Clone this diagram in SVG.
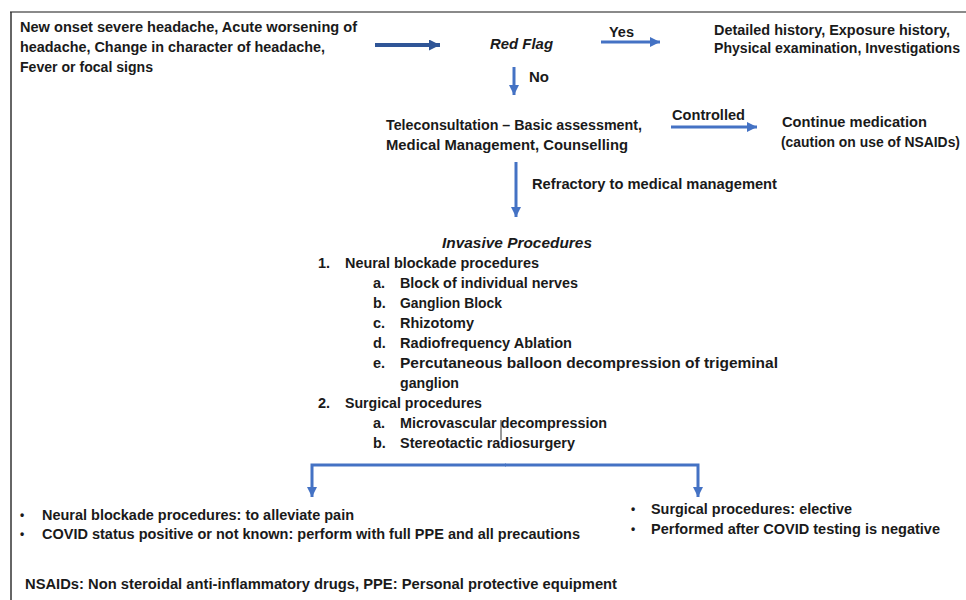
<svg xmlns="http://www.w3.org/2000/svg" width="966" height="600" viewBox="0 0 966 600">
<style>
text{font-family:"Liberation Sans",Arial,sans-serif;font-weight:bold;font-size:14.5px;fill:#1a1a1a}
.it{font-style:italic}
.bl{font-size:12px}
.blue{stroke:#4472C4;stroke-width:3;fill:none}
.navy{stroke:#2F5597;stroke-width:4;fill:none}
</style>
<defs>
<marker id="ah" viewBox="0 0 10 10" refX="10" refY="5" markerWidth="10" markerHeight="10" markerUnits="userSpaceOnUse" orient="auto"><path d="M0,0 L10,5 L0,10 z" fill="#4472C4"/></marker>
<marker id="ahn" viewBox="0 0 10 10" refX="10" refY="5" markerWidth="11" markerHeight="11" markerUnits="userSpaceOnUse" orient="auto"><path d="M0,0 L10,5 L0,10 z" fill="#2F5597"/></marker>
</defs>
<rect width="966" height="600" fill="#fff"/>
<g id="frame">
<line x1="10" y1="12" x2="966" y2="12" stroke="#8a8a8a" stroke-width="2"/>
<line x1="11" y1="12" x2="11" y2="600" stroke="#333" stroke-width="1.5"/>
</g>
<g id="connectors">
<line class="navy" x1="375" y1="45" x2="440" y2="45" marker-end="url(#ahn)"/>
<line class="blue" x1="601" y1="42" x2="660" y2="42" marker-end="url(#ah)"/>
<line class="blue" x1="514" y1="67" x2="514" y2="95" marker-end="url(#ah)"/>
<line class="blue" x1="671" y1="127" x2="757" y2="127" marker-end="url(#ah)"/>
<line class="blue" x1="516" y1="162" x2="516" y2="217" marker-end="url(#ah)"/>
<path class="blue" d="M506,465 H312 V497" marker-end="url(#ah)"/>
<path class="blue" d="M505,465 H698 V497" marker-end="url(#ah)"/>
<line x1="501" y1="420" x2="501" y2="440" stroke="#333" stroke-width="1"/>
</g>
<g id="labels">
<text x="609" y="37" textLength="25" lengthAdjust="spacingAndGlyphs">Yes</text>
<text x="529" y="82" textLength="20" lengthAdjust="spacingAndGlyphs">No</text>
<text x="672" y="120" textLength="73" lengthAdjust="spacingAndGlyphs">Controlled</text>
<text x="532" y="189" textLength="245" lengthAdjust="spacingAndGlyphs">Refractory to medical management</text>
</g>
<g id="start">
<text x="20" y="32" textLength="337" lengthAdjust="spacingAndGlyphs">New onset severe headache, Acute worsening of</text>
<text x="20" y="52" textLength="305" lengthAdjust="spacingAndGlyphs">headache, Change in character of headache,</text>
<text x="20" y="72" textLength="133" lengthAdjust="spacingAndGlyphs">Fever or focal signs</text>
</g>
<g id="redflag">
<text class="it" x="490" y="49" textLength="63" lengthAdjust="spacingAndGlyphs">Red Flag</text>
</g>
<g id="detailed">
<text x="714" y="35" textLength="236" lengthAdjust="spacingAndGlyphs">Detailed history, Exposure history,</text>
<text x="714" y="53" textLength="246" lengthAdjust="spacingAndGlyphs">Physical examination, Investigations</text>
</g>
<g id="teleconsultation">
<text x="386" y="130" textLength="256" lengthAdjust="spacingAndGlyphs">Teleconsultation – Basic assessment,</text>
<text x="386" y="150" textLength="242" lengthAdjust="spacingAndGlyphs">Medical Management, Counselling</text>
</g>
<g id="continue">
<text x="782" y="127" textLength="145" lengthAdjust="spacingAndGlyphs">Continue medication</text>
<text x="781" y="147" textLength="179" lengthAdjust="spacingAndGlyphs">(caution on use of NSAIDs)</text>
</g>
<g id="invasive">
<text class="it" x="442" y="248" textLength="150" lengthAdjust="spacingAndGlyphs">Invasive Procedures</text>
<text x="318" y="268">1.</text>
<text x="345" y="268" textLength="194" lengthAdjust="spacingAndGlyphs">Neural blockade procedures</text>
<text x="373" y="288">a.</text>
<text x="400" y="288" textLength="178" lengthAdjust="spacingAndGlyphs">Block of individual nerves</text>
<text x="373" y="308">b.</text>
<text x="400" y="308" textLength="102" lengthAdjust="spacingAndGlyphs">Ganglion Block</text>
<text x="373" y="328">c.</text>
<text x="400" y="328" textLength="74" lengthAdjust="spacingAndGlyphs">Rhizotomy</text>
<text x="373" y="348">d.</text>
<text x="400" y="348" textLength="172" lengthAdjust="spacingAndGlyphs">Radiofrequency Ablation</text>
<text x="373" y="368">e.</text>
<text x="400" y="368" textLength="378" lengthAdjust="spacingAndGlyphs">Percutaneous balloon decompression of trigeminal</text>
<text x="400" y="388" textLength="59" lengthAdjust="spacingAndGlyphs">ganglion</text>
<text x="318" y="408">2.</text>
<text x="345" y="408" textLength="137" lengthAdjust="spacingAndGlyphs">Surgical procedures</text>
<text x="373" y="428">a.</text>
<text x="400" y="428" textLength="207" lengthAdjust="spacingAndGlyphs">Microvascular decompression</text>
<text x="373" y="448">b.</text>
<text x="400" y="448" textLength="175" lengthAdjust="spacingAndGlyphs">Stereotactic radiosurgery</text>
</g>
<g id="neural-notes">
<text class="bl" x="20" y="519">•</text>
<text x="42" y="520" textLength="312" lengthAdjust="spacingAndGlyphs">Neural blockade procedures: to alleviate pain</text>
<text class="bl" x="20" y="538">•</text>
<text x="42" y="539" textLength="538" lengthAdjust="spacingAndGlyphs">COVID status positive or not known: perform with full PPE and all precautions</text>
</g>
<g id="surgical-notes">
<text class="bl" x="631" y="513">•</text>
<text x="651" y="514" textLength="201" lengthAdjust="spacingAndGlyphs">Surgical procedures: elective</text>
<text class="bl" x="631" y="533">•</text>
<text x="651" y="534" textLength="289" lengthAdjust="spacingAndGlyphs">Performed after COVID testing is negative</text>
</g>
<g id="footer">
<text x="25" y="589" textLength="592" lengthAdjust="spacingAndGlyphs">NSAIDs: Non steroidal anti-inflammatory drugs, PPE: Personal protective equipment</text>
</g>
</svg>
